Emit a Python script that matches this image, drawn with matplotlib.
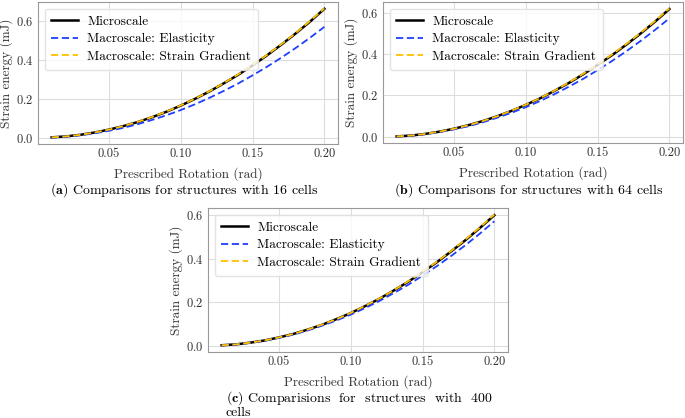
import matplotlib
matplotlib.use('Agg')
import matplotlib.pyplot as plt

plt.rcParams['font.family'] = 'serif'
plt.rcParams['font.serif'] = ['cmr10']
plt.rcParams['mathtext.fontset'] = 'cm'
plt.rcParams['axes.unicode_minus'] = False
plt.rcParams['axes.formatter.use_mathtext'] = True

# prescribed rotation (rad)
rot = [0.01, 0.02, 0.03, 0.04, 0.05, 0.06, 0.07, 0.08, 0.09, 0.10,
       0.11, 0.12, 0.13, 0.14, 0.15, 0.16, 0.17, 0.18, 0.19, 0.20]

# (a) 16 cells
micro_16 = [0.002, 0.007, 0.015, 0.027, 0.042, 0.060, 0.081, 0.106, 0.134, 0.166,
            0.201, 0.239, 0.281, 0.325, 0.373, 0.425, 0.480, 0.538, 0.599, 0.665]
elast_16 = [0.001, 0.006, 0.013, 0.023, 0.036, 0.051, 0.070, 0.092, 0.116, 0.143,
            0.173, 0.206, 0.242, 0.280, 0.322, 0.366, 0.413, 0.463, 0.516, 0.572]
grad_16 = [0.002, 0.007, 0.015, 0.027, 0.042, 0.060, 0.082, 0.107, 0.135, 0.167,
           0.202, 0.240, 0.282, 0.327, 0.375, 0.427, 0.482, 0.540, 0.602, 0.667]

# (b) 64 cells
micro_64 = [0.002, 0.006, 0.014, 0.025, 0.039, 0.056, 0.076, 0.099, 0.125, 0.154,
            0.186, 0.222, 0.260, 0.302, 0.347, 0.394, 0.445, 0.499, 0.556, 0.617]
elast_64 = [0.001, 0.006, 0.013, 0.023, 0.036, 0.051, 0.070, 0.092, 0.116, 0.143,
            0.173, 0.206, 0.242, 0.280, 0.322, 0.366, 0.413, 0.463, 0.516, 0.572]
grad_64 = [0.002, 0.006, 0.014, 0.025, 0.039, 0.056, 0.076, 0.099, 0.126, 0.155,
           0.187, 0.223, 0.262, 0.304, 0.349, 0.397, 0.448, 0.502, 0.559, 0.620]

# (c) 400 cells
micro_400 = [0.002, 0.006, 0.014, 0.024, 0.038, 0.054, 0.074, 0.096, 0.122, 0.150,
             0.182, 0.216, 0.254, 0.294, 0.338, 0.384, 0.434, 0.486, 0.542, 0.600]
elast_400 = [0.001, 0.006, 0.013, 0.023, 0.036, 0.051, 0.070, 0.092, 0.116, 0.143,
             0.173, 0.206, 0.242, 0.280, 0.322, 0.366, 0.413, 0.463, 0.516, 0.572]
grad_400 = [0.002, 0.006, 0.014, 0.024, 0.038, 0.054, 0.074, 0.097, 0.122, 0.151,
            0.183, 0.217, 0.255, 0.296, 0.340, 0.386, 0.436, 0.489, 0.544, 0.603]

W, H = 685, 418
fig = plt.figure(figsize=(W / 100, H / 100), dpi=100)


def px_axes(x0, y0, x1, y1):
    return fig.add_axes([x0 / W, 1 - y1 / H, (x1 - x0) / W, (y1 - y0) / H])


def draw(ax, micro, elast, grad):
    ax.plot(rot, micro, color='black', lw=1.8, label='Microscale')
    ax.plot(rot, elast, color='#1f3fff', lw=1.3, ls=(0, (4, 2)), label='Macroscale: Elasticity')
    ax.plot(rot, grad, color='#ffc000', lw=1.3, ls=(0, (4, 2)), label='Macroscale: Strain Gradient')
    ax.set_xticks([0.05, 0.10, 0.15, 0.20])
    ax.set_xticklabels(['0.05', '0.10', '0.15', '0.20'])
    ax.set_yticks([0.0, 0.2, 0.4, 0.6])
    ax.grid(True, color='#dddddd', lw=0.8)
    ax.set_axisbelow(True)
    for s in ax.spines.values():
        s.set_color('#999999')
    ax.tick_params(labelsize=9, colors='#333333', length=0, pad=3)
    ax.set_xlabel('Prescribed Rotation (rad)', fontsize=9.5, color='#333333', labelpad=5)
    ax.set_ylabel('Strain energy (mJ)', fontsize=9.5, color='#333333', labelpad=2)
    ax.legend(loc='upper left', fontsize=9.6, framealpha=0.8, edgecolor='#dddddd',
              handlelength=2.0, handletextpad=0.7, labelspacing=0.4, borderpad=0.5)


ax1 = px_axes(38, 2, 338, 144)
draw(ax1, micro_16, elast_16, grad_16)

ax2 = px_axes(383, 2, 683, 143)
draw(ax2, micro_64, elast_64, grad_64)

ax3 = px_axes(208, 208, 508, 352)
draw(ax3, micro_400, elast_400, grad_400)

fig.text(50 / W, 1 - 190 / H, r'$\mathbf{(a)}$ Comparisons for structures with 16 cells',
         fontsize=10, va='center', ha='left')
fig.text(394 / W, 1 - 190 / H, r'$\mathbf{(b)}$ Comparisons for structures with 64 cells',
         fontsize=10, va='center', ha='left')
fig.text(226 / W, 1 - 398 / H, r'$\mathbf{(c)}$ Comparisions  for  structures  with  400',
         fontsize=10, va='center', ha='left')
fig.text(226 / W, 1 - 413 / H, 'cells', fontsize=10, va='center', ha='left')

fig.savefig('out.png', dpi=100)
